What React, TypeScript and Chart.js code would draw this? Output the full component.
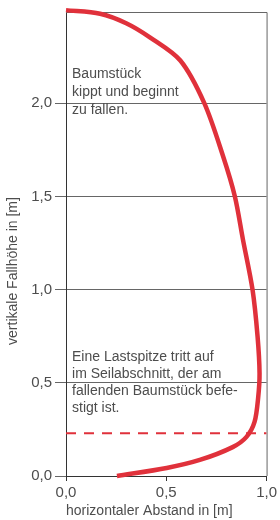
import React, { useEffect, useRef } from "react";
import { Chart, registerables } from "chart.js";

Chart.register(...registerables);

const curveX = [0.254, 0.502, 0.667, 0.831, 0.9, 0.94, 0.958, 0.965, 0.955, 0.93, 0.882, 0.842, 0.782, 0.69, 0.57, 0.42, 0.3, 0.17, 0.0];
const curveY = [0.0, 0.043, 0.086, 0.155, 0.21, 0.29, 0.42, 0.55, 0.75, 1.0, 1.27, 1.5, 1.72, 2.0, 2.23, 2.353, 2.43, 2.481, 2.5];
const spikeY = 0.23;
const spikeX = [0, 1];
const xTicks = [0, 0.5, 1.0];
const yTicks = [0, 0.5, 1.0, 1.5, 2.0];
const xTitle = "horizontaler Abstand in [m]";
const yTitle = "vertikale Fallhöhe in [m]";
const note1 = ["Baumstück", "kippt und beginnt", "zu fallen."];
const note2 = ["Eine Lastspitze tritt auf", "im Seilabschnitt, der am", "fallenden Baumstück befe-", "stigt ist."];

const FONT = "'Liberation Sans', Arial, sans-serif";
const TEXT = "#4d4d4d";
const RED = "#e0313b";

const fmt = (v: number) => v.toFixed(1).replace(".", ",");

const extras = {
  id: "extras",
  beforeDatasetsDraw(chart: any) {
    const { ctx, chartArea } = chart;
    ctx.save();
    ctx.strokeStyle = "#666";
    ctx.lineWidth = 1;
    ctx.beginPath();
    ctx.moveTo(chartArea.left, chartArea.top + 0.5);
    ctx.lineTo(chartArea.right + 0.5, chartArea.top + 0.5);
    ctx.lineTo(chartArea.right + 0.5, chartArea.bottom);
    ctx.stroke();

    const xs = chart.scales.x;
    const ys = chart.scales.y;
    ctx.fillStyle = TEXT;
    ctx.font = `14px ${FONT}`;
    ctx.textBaseline = "middle";
    ctx.textAlign = "left";
    const tx = xs.getPixelForValue(0.03);
    const y1 = ys.getPixelForValue(2.155);
    note1.forEach((t, i) => ctx.fillText(t, tx, y1 + i * 17.8));
    const y2 = ys.getPixelForValue(0.638);
    note2.forEach((t, i) => ctx.fillText(t, tx, y2 + i * 17));

    ctx.translate(13, 271);
    ctx.rotate(-Math.PI / 2);
    ctx.textAlign = "center";
    ctx.fillText(yTitle, 0, 0);
    ctx.restore();
  },
};

export default function App() {
  const ref = useRef<HTMLCanvasElement | null>(null);
  useEffect(() => {
    if (!ref.current) return;
    const chart = new Chart(ref.current, {
      type: "line",
      data: {
        datasets: [
          {
            data: spikeX.map((x) => ({ x, y: spikeY })),
            borderColor: RED,
            borderWidth: 2,
            borderDash: [10, 8],
            pointRadius: 0,
            fill: false,
          },
          {
            data: curveX.map((x, i) => ({ x, y: curveY[i] })),
            borderColor: RED,
            borderWidth: 4.5,
            pointRadius: 0,
            tension: 0.3,
            fill: false,
            clip: false as any,
            borderCapStyle: "butt",
          },
        ],
      },
      options: {
        animation: false,
        responsive: false,
        layout: { padding: { top: 12, right: 13, left: 0, bottom: 0 } },
        plugins: { legend: { display: false }, tooltip: { enabled: false } },
        scales: {
          x: {
            type: "linear",
            min: 0,
            max: 1,
            afterBuildTicks: (s: any) => {
              s.ticks = xTicks.map((v) => ({ value: v }));
            },
            afterFit: (s: any) => {
              s.height = 44;
            },
            grid: { drawOnChartArea: false, drawTicks: true, tickLength: 5, color: "#333" },
            border: { color: "#333", width: 1 },
            ticks: {
              callback: (v: any) => fmt(Number(v)),
              font: { family: FONT, size: 15 },
              color: TEXT,
              padding: 3,
              maxRotation: 0,
            },
            title: {
              display: true,
              text: xTitle,
              align: "start",
              font: { family: FONT, size: 14 },
              color: TEXT,
              padding: 0,
            },
          },
          y: {
            type: "linear",
            min: 0,
            max: 2.49,
            afterBuildTicks: (s: any) => {
              s.ticks = yTicks.map((v) => ({ value: v }));
            },
            afterFit: (s: any) => {
              s.width = 66;
            },
            grid: { color: "#666", lineWidth: 1, drawTicks: true, tickLength: 11 },
            border: { color: "#333", width: 1 },
            ticks: {
              callback: (v: any) => fmt(Number(v)),
              font: { family: FONT, size: 15 },
              color: TEXT,
              padding: 3,
            },
          },
        },
      },
      plugins: [extras],
    });
    return () => chart.destroy();
  }, []);
  return (
    <div style={{ position: "absolute", left: 0, top: 0, width: 280, height: 520, background: "#fff" }}>
      <canvas ref={ref} width={280} height={520} style={{ width: 280, height: 520, display: "block" }} />
    </div>
  );
}
